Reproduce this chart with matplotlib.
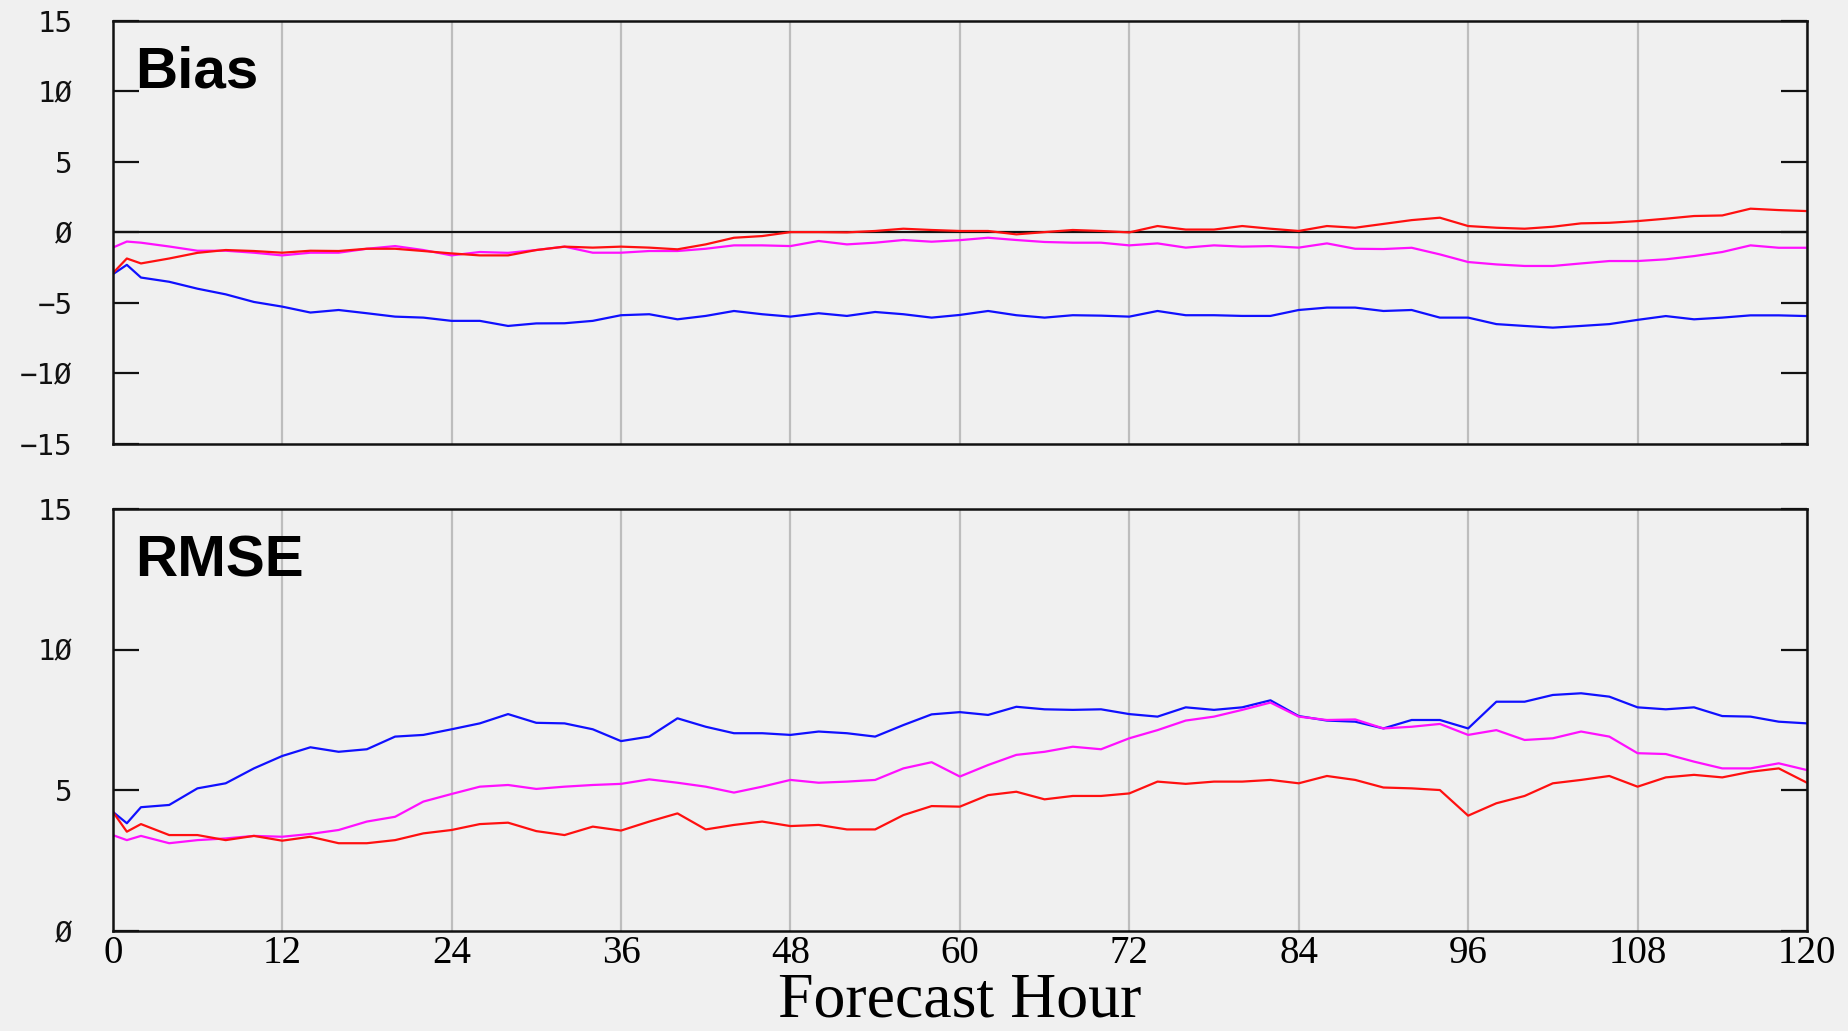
import matplotlib
matplotlib.use('Agg')
import matplotlib.pyplot as plt

# forecast hours (read every 2 h, plus hour 1)
hours = [0, 1] + list(range(2, 121, 2))

# Bias
bias_red = [-2.9, -1.85, -2.2, -1.85, -1.45, -1.25, -1.32, -1.44, -1.3, -1.32, -1.16,
            -1.16, -1.32, -1.49, -1.63, -1.63, -1.25, -1.01, -1.08, -1.01, -1.08, -1.2,
            -0.85, -0.38, -0.26, 0.02, 0.02, 0.0, 0.1, 0.26, 0.17, 0.1, 0.1, -0.14,
            0.02, 0.17, 0.1, 0.0, 0.45, 0.2, 0.2, 0.45, 0.26, 0.1, 0.45, 0.33, 0.6,
            0.87, 1.04, 0.45, 0.33, 0.26, 0.4, 0.64, 0.68, 0.8, 0.97, 1.16, 1.2, 1.68,
            1.58, 1.51]
bias_magenta = [-1.08, -0.65, -0.73, -1.0, -1.3, -1.3, -1.44, -1.63, -1.44, -1.44, -1.16,
                -0.97, -1.25, -1.63, -1.39, -1.45, -1.25, -1.01, -1.44, -1.44, -1.32, -1.32,
                -1.16, -0.92, -0.92, -0.97, -0.61, -0.85, -0.73, -0.54, -0.66, -0.55, -0.38,
                -0.54, -0.68, -0.73, -0.73, -0.92, -0.78, -1.08, -0.92, -1.01, -0.97, -1.08,
                -0.78, -1.16, -1.18, -1.09, -1.56, -2.1, -2.27, -2.38, -2.38, -2.2, -2.03,
                -2.03, -1.91, -1.68, -1.39, -0.92, -1.09, -1.09]
bias_blue = [-2.97, -2.3, -3.2, -3.5, -3.99, -4.39, -4.93, -5.26, -5.68, -5.5, -5.73,
             -5.97, -6.04, -6.27, -6.27, -6.63, -6.45, -6.44, -6.27, -5.87, -5.8, -6.16,
             -5.92, -5.57, -5.8, -5.97, -5.73, -5.92, -5.64, -5.8, -6.04, -5.85, -5.57,
             -5.87, -6.04, -5.87, -5.9, -5.97, -5.57, -5.87, -5.87, -5.92, -5.92, -5.5,
             -5.33, -5.33, -5.57, -5.5, -6.04, -6.04, -6.5, -6.63, -6.75, -6.63, -6.5,
             -6.2, -5.93, -6.16, -6.04, -5.88, -5.88, -5.93]

# RMSE
rmse_red = [4.24, 3.53, 3.8, 3.41, 3.41, 3.23, 3.38, 3.21, 3.35, 3.12, 3.12,
            3.23, 3.47, 3.59, 3.8, 3.85, 3.55, 3.41, 3.71, 3.57, 3.89, 4.18,
            3.61, 3.77, 3.89, 3.73, 3.77, 3.61, 3.61, 4.12, 4.44, 4.42, 4.83,
            4.95, 4.68, 4.8, 4.8, 4.89, 5.31, 5.23, 5.31, 5.31, 5.37, 5.25,
            5.51, 5.37, 5.1, 5.07, 5.01, 4.1, 4.54, 4.8, 5.25, 5.37, 5.51,
            5.13, 5.46, 5.55, 5.46, 5.66, 5.78, 5.27]
rmse_magenta = [3.41, 3.23, 3.38, 3.12, 3.23, 3.29, 3.38, 3.35, 3.45, 3.59, 3.89,
                4.06, 4.6, 4.87, 5.13, 5.19, 5.05, 5.13, 5.19, 5.23, 5.39, 5.27,
                5.13, 4.92, 5.13, 5.37, 5.27, 5.31, 5.37, 5.78, 6.0, 5.49, 5.9,
                6.26, 6.37, 6.55, 6.46, 6.85, 7.14, 7.48, 7.62, 7.86, 8.12, 7.62,
                7.5, 7.52, 7.2, 7.26, 7.36, 6.97, 7.14, 6.79, 6.85, 7.09, 6.91,
                6.32, 6.29, 6.02, 5.78, 5.78, 5.96, 5.72]
rmse_blue = [4.24, 3.83, 4.4, 4.48, 5.07, 5.25, 5.78, 6.22, 6.53, 6.37, 6.46,
             6.91, 6.97, 7.17, 7.38, 7.71, 7.4, 7.38, 7.17, 6.75, 6.91, 7.56,
             7.26, 7.03, 7.03, 6.97, 7.09, 7.03, 6.91, 7.32, 7.7, 7.78, 7.68,
             7.97, 7.88, 7.86, 7.88, 7.71, 7.62, 7.95, 7.86, 7.95, 8.2, 7.64,
             7.48, 7.44, 7.2, 7.5, 7.5, 7.2, 8.15, 8.15, 8.39, 8.45, 8.33,
             7.95, 7.88, 7.95, 7.64, 7.62, 7.44, 7.38]

xticks = list(range(0, 121, 12))
bias_yticks = [-15, -10, -5, 0, 5, 10, 15]
bias_ylabels = ['\u221215', '\u22121\u00d8', '\u22125', '\u00d8', '5', '1\u00d8', '15']
rmse_yticks = [0, 5, 10, 15]
rmse_ylabels = ['\u00d8', '5', '1\u00d8', '15']

bg = '#f0f0f0'
fig = plt.figure(figsize=(18.48, 10.31), dpi=100, facecolor=bg)

ax1 = fig.add_axes([0.061, 0.5693, 0.9168, 0.4106])
ax2 = fig.add_axes([0.061, 0.097, 0.9168, 0.4093])


def style(ax, yticks, ylabels):
    ax.set_facecolor(bg)
    ax.set_xlim(0, 120)
    ax.set_xticks(xticks)
    ax.set_yticks(yticks)
    ax.set_yticklabels(ylabels, family='DejaVu Sans Mono', fontsize=21)
    ax.set_ylim(yticks[0], yticks[-1])
    for s in ax.spines.values():
        s.set_linewidth(1.8)
        s.set_color('#111111')
    ax.grid(axis='x', color='#bdbdbd', linewidth=1.6)
    ax.set_axisbelow(True)
    ax.tick_params(axis='y', direction='in', length=19, width=1.6,
                   right=True, pad=29, colors='#111111')
    ax.tick_params(axis='x', length=0)


style(ax1, bias_yticks, bias_ylabels)
style(ax2, rmse_yticks, rmse_ylabels)

ax1.axhline(0, color='#111111', linewidth=1.6, zorder=1)
ax1.plot(hours, bias_blue, color='#1010ff', linewidth=1.6)
ax1.plot(hours, bias_magenta, color='#ff10ff', linewidth=1.6)
ax1.plot(hours, bias_red, color='#ff1010', linewidth=1.6)
ax1.tick_params(axis='x', labelbottom=False)
ax1.text(0.013, 0.842, 'Bias', transform=ax1.transAxes, family='Liberation Sans',
         fontweight='bold', fontsize=42, va='baseline', ha='left')

ax2.plot(hours, rmse_blue, color='#1010ff', linewidth=1.6)
ax2.plot(hours, rmse_magenta, color='#ff10ff', linewidth=1.6)
ax2.plot(hours, rmse_red, color='#ff1010', linewidth=1.6)
ax2.set_xticklabels([str(h) for h in xticks], family='Liberation Serif', fontsize=28)
ax2.tick_params(axis='x', pad=3)
ax2.text(0.013, 0.841, 'RMSE', transform=ax2.transAxes, family='Liberation Sans',
         fontweight='bold', fontsize=42, va='baseline', ha='left')

fig.text(0.5192, 0.0145, 'Forecast Hour', family='Liberation Serif', fontsize=46,
         ha='center', va='baseline')

fig.savefig('out.png', dpi=100, facecolor=bg)
